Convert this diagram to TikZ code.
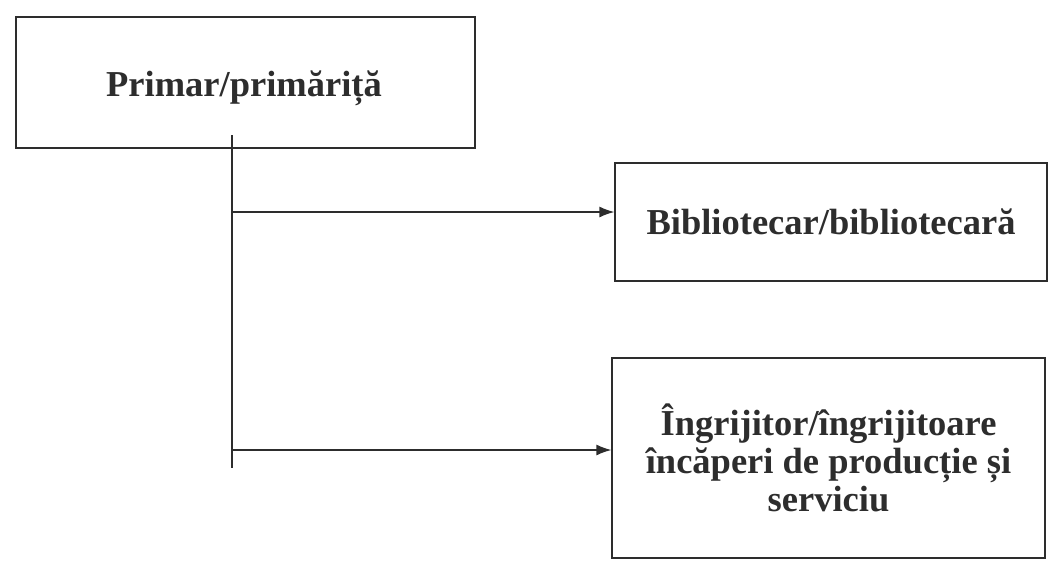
\documentclass[tikz,border=0pt]{standalone}
\usepackage{fontspec}
\setmainfont{Liberation Serif}
\usetikzlibrary{calc, arrows.meta, positioning}
\definecolor{ink}{RGB}{45,45,45}
\tikzset{
  org/box/.style={draw=ink, line width=1.3pt, align=center, inner sep=0pt, text=ink,
    font=\fontsize{36.5}{38}\selectfont\bfseries},
  org/line/.style={draw=ink, line width=1.3pt},
  org/arrow/.style={draw=ink, line width=1.3pt, -{Latex[length=15pt, width=11pt]}},
}
\begin{document}
\begin{tikzpicture}[x=1pt, y=-1pt]
  \useasboundingbox (0,0) rectangle (1056,573);

  % Casete
  \node[org/box, minimum width=459pt, minimum height=131pt] (primar) at (245.5,82.5) {};
  \node[text=ink, font=\fontsize{36.5}{38}\selectfont\bfseries] (primtxt) at (244,88) {Primar/primăriță};
  \node[org/box, minimum width=432pt, minimum height=118pt] (biblio) at (831,222) {Bibliotecar/bibliotecară};
  \node[org/box, minimum width=433pt, minimum height=200pt] (ingrij) at (828.5,458)
    {Îngrijitor/îngrijitoare\\încăperi de producție și\\serviciu};

  % Linia verticala
  \coordinate (trtop) at (232,135);
  \coordinate (trbot) at (232,468);
  \coordinate (br1) at (232,212);
  \coordinate (br2) at (232,450);
  \draw[org/line] (trtop) -- (trbot);

  % Sageti
  \draw[org/arrow] (br1) -- (br1 -| biblio.west);
  \draw[org/arrow] (br2) -- (br2 -| ingrij.west);

\end{tikzpicture}
\end{document}
